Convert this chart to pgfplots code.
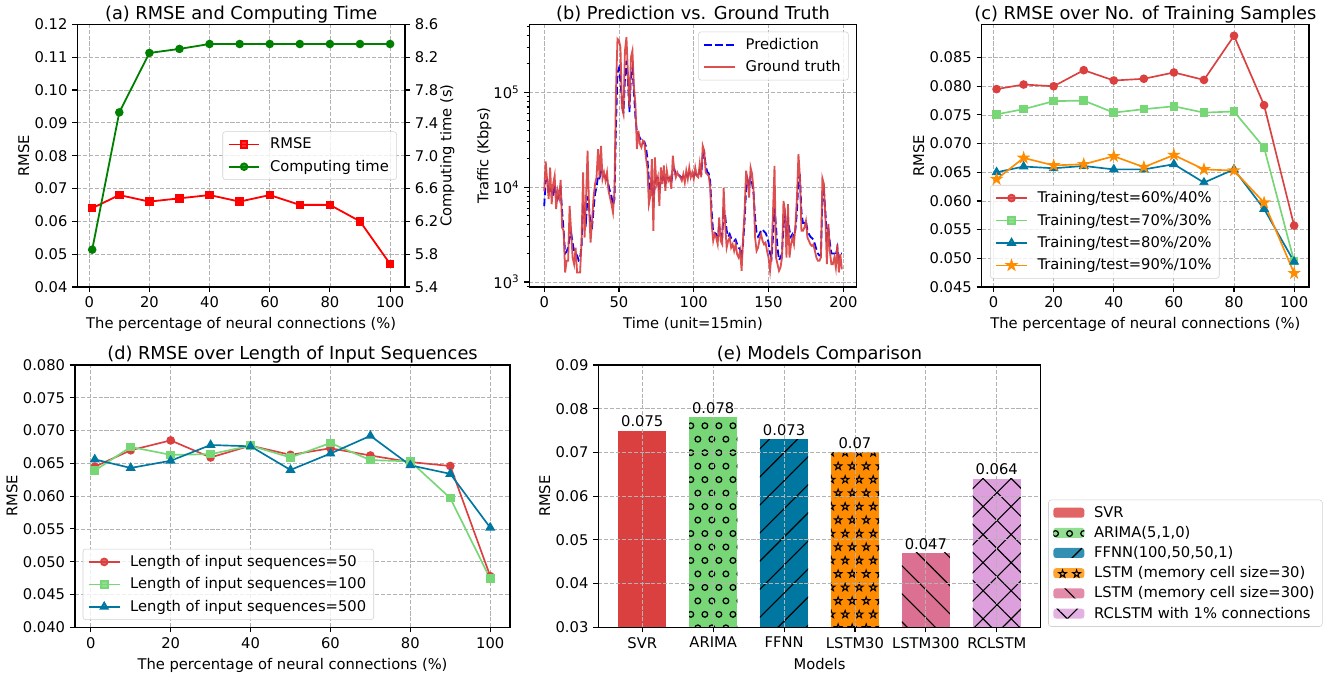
\documentclass[border=0pt]{standalone}
\usepackage{fontspec}
\setmainfont{DejaVu Sans}
\usepackage{pgfplots}
\usepackage{pgfplotstable}
\pgfplotsset{compat=1.18}
\usetikzlibrary{patterns.meta}

\definecolor{mred}{RGB}{255,0,0}
\definecolor{mgreen}{RGB}{0,128,0}
\definecolor{cred}{RGB}{219,64,64}
\definecolor{cgreen}{RGB}{119,215,119}
\definecolor{cblue}{RGB}{0,119,160}
\definecolor{corange}{RGB}{255,140,0}
\definecolor{cpink}{RGB}{219,112,147}
\definecolor{cplum}{RGB}{221,160,221}

\newcommand\fs{\fontsize{10.6}{12.7}\selectfont}
\newcommand\ft{\fontsize{12.8}{15.4}\selectfont}

% filled five-pointed star, like matplotlib's '*'
\pgfdeclareplotmark{fstar}{%
  \pgfpathmoveto{\pgfpointpolar{90}{\pgfplotmarksize}}%
  \pgfpathlineto{\pgfpointpolar{126}{0.382\pgfplotmarksize}}%
  \pgfpathlineto{\pgfpointpolar{162}{\pgfplotmarksize}}%
  \pgfpathlineto{\pgfpointpolar{198}{0.382\pgfplotmarksize}}%
  \pgfpathlineto{\pgfpointpolar{234}{\pgfplotmarksize}}%
  \pgfpathlineto{\pgfpointpolar{270}{0.382\pgfplotmarksize}}%
  \pgfpathlineto{\pgfpointpolar{306}{\pgfplotmarksize}}%
  \pgfpathlineto{\pgfpointpolar{342}{0.382\pgfplotmarksize}}%
  \pgfpathlineto{\pgfpointpolar{18}{\pgfplotmarksize}}%
  \pgfpathlineto{\pgfpointpolar{54}{0.382\pgfplotmarksize}}%
  \pgfpathclose
  \pgfusepathqfillstroke
}

% hatch patterns
\tikzdeclarepattern{
  name=mplcircles,
  type=uncolored,
  bounding box={(-0.5pt,-0.5pt) and (10.6pt,19.9pt)},
  tile size={(10.1pt,19.4pt)},
  code={
    \draw[line width=0.9pt] (2.5pt,4.85pt) circle (2.05pt);
    \draw[line width=0.9pt] (7.55pt,14.55pt) circle (2.05pt);
  }
}
\tikzdeclarepattern{
  name=mplstars,
  type=uncolored,
  bounding box={(-1pt,-1pt) and (11.1pt,20.4pt)},
  tile size={(10.1pt,19.4pt)},
  code={
    \foreach \cx/\cy in {2.5/4.85, 7.55/14.55}{
      \draw[line width=0.75pt, line join=miter, shift={(\cx pt,\cy pt)}]
        (90:2.8pt) -- (126:1.1pt) -- (162:2.8pt) -- (198:1.1pt) -- (234:2.8pt)
        -- (270:1.1pt) -- (306:2.8pt) -- (342:1.1pt) -- (18:2.8pt) -- (54:1.1pt) -- cycle;
    }
  }
}

\pgfplotsset{
  mpl/.style={
    scale only axis,
    scaled ticks=false,
    axis line style={line width=0.8pt},
    tick style={black, line width=0.8pt},
    tick align=outside,
    tick pos=left,
    major tick length=3.6pt,
    minor tick length=2pt,
    grid=major,
    major grid style={gray!60, line width=0.6pt, dash pattern=on 2.96pt off 1.28pt},
    title style={font=\ft, at={(0.5,1)}, anchor=base, yshift=-2.4pt},
    tick label style={font=\fs},
    label style={font=\fs},
    ylabel style={yshift=-3pt},
    legend style={font=\fs, draw=black!18, rounded corners=2pt, fill=white,
      fill opacity=0.8, text opacity=1, inner xsep=3.5pt, inner ysep=2.5pt,
      row sep=2.6pt, column sep=5pt},
    legend cell align=left,
    legend image code/.code={\draw[mark repeat=2,mark phase=2,##1]
      plot coordinates {(0pt,0pt) (11.2pt,0pt) (22.3pt,0pt)};},
    /pgf/number format/assume math mode=true,
  },
  barlegend/.style={legend image code/.code={\draw[##1,draw=none] (0pt,-3.6pt) rectangle (22.3pt,3.6pt);}},
  prec/.style={yticklabel style={/pgf/number format/fixed,
      /pgf/number format/fixed zerofill, /pgf/number format/precision=#1}},
}

\pgfplotstableread{
p rmse ct
1 0.064 5.855
10 0.068 7.527
20 0.066 8.251
30 0.067 8.30
40 0.068 8.36
50 0.066 8.36
60 0.068 8.36
70 0.065 8.36
80 0.065 8.36
90 0.060 8.36
100 0.047 8.36
}\dataA

\pgfplotstableread{
p r60 r70 r80 r90
1 0.0795 0.0751 0.0650 0.0638
10 0.0803 0.0760 0.0660 0.0675
20 0.0800 0.0774 0.0657 0.0662
30 0.0828 0.0775 0.0661 0.0664
40 0.0810 0.0754 0.0655 0.0678
50 0.0813 0.0760 0.0655 0.0659
60 0.0824 0.0765 0.0664 0.0680
70 0.0811 0.0754 0.0632 0.0655
80 0.0888 0.0756 0.0655 0.0653
90 0.0767 0.0693 0.0586 0.0597
100 0.0557 0.0495 0.0494 0.0474
}\dataC

\pgfplotstableread{
p l50 l100 l500
1 0.0645 0.0639 0.0656
10 0.0670 0.0675 0.0643
20 0.0685 0.0663 0.0654
30 0.0659 0.0664 0.0678
40 0.0677 0.0677 0.0676
50 0.0663 0.0659 0.0640
60 0.0673 0.0681 0.0665
70 0.0662 0.0655 0.0692
80 0.0652 0.0653 0.0647
90 0.0646 0.0597 0.0634
100 0.0478 0.0474 0.0552
}\dataD

\pgfplotstableread{
t gt pr
0 9000 6300
1 18700 11700
2 11700 12000
3 7470 8500
4 16100 9500
5 6610 9000
6 10800 8000
7 13200 10500
8 5860 8500
9 9150 7500
10 7780 8500
11 11900 9500
12 3750 5500
13 3460 3500
14 1260 2000
15 1670 2100
16 1670 2300
17 6350 2900
18 3460 3300
19 1810 2600
20 1540 2100
21 2300 2000
22 1260 1900
23 1260 1700
24 1260 1800
25 2710 2400
26 14300 6500
27 2940 5500
28 7780 4500
29 24200 8000
30 6100 6000
31 2600 4000
32 4400 3800
33 7780 5800
34 10800 8500
35 12700 10000
36 25200 13000
37 12700 12500
38 27300 14500
39 12200 13500
40 14300 13000
41 11700 13000
42 14300 12000
43 9150 10500
44 7780 9000
45 6610 8000
46 5400 6500
47 9150 7500
48 104000 44000
49 366000 160000
50 351000 180000
51 299000 130000
52 69400 80000
53 59000 60000
54 275000 140000
55 381000 215000
56 156000 130000
57 69400 62000
58 234000 150000
59 275000 180000
60 113000 100000
61 75300 55000
62 25200 38000
63 39400 36000
64 28500 33000
65 26300 31000
66 30900 29000
67 29600 30000
68 20600 27000
69 16100 20000
70 6610 12000
71 8100 9000
72 19700 11000
73 3460 7000
74 20600 11000
75 10800 12500
76 12700 12500
77 6350 9000
78 16100 12500
79 10800 12000
80 16900 13500
81 9150 11000
82 14900 12500
83 11700 12500
84 12700 12500
85 9600 11000
86 21500 15000
87 14900 15500
88 12700 13500
89 14300 13500
90 13200 13500
91 12700 13000
92 11700 12500
93 13700 13000
94 11200 12500
95 14900 13500
96 12200 13000
97 16100 14000
98 12700 13500
99 14300 13500
100 12200 13000
101 16100 14000
102 13200 13500
103 12700 13000
104 17600 15000
105 12700 14000
106 27300 21000
107 24200 23000
108 14300 17000
109 13700 14500
110 13200 14000
111 9900 11500
112 4070 5500
113 2710 3300
114 3190 3300
115 2940 3200
116 2500 3000
117 4780 3800
118 2710 3400
119 2500 3000
120 9900 5500
121 4070 5000
122 2300 3500
123 2710 3000
124 2940 3200
125 2300 2900
126 2500 2800
127 2120 2700
128 2500 2800
129 1960 2500
130 1810 2300
131 2120 2200
132 1310 1800
133 2940 2600
134 5620 4500
135 14900 9500
136 11700 12000
137 7780 10000
138 16100 12500
139 13800 11000
140 9150 8500
141 2940 4800
142 2120 3300
143 2300 3000
144 2820 3200
145 3180 3500
146 2710 3600
147 2490 3400
148 2600 3300
149 2120 3000
150 1810 2600
151 1310 2000
152 1960 1800
153 5600 3000
154 16800 6000
155 1810 3800
156 1540 2300
157 1310 1700
158 1420 1800
159 1810 2000
160 7150 4000
161 5600 5000
162 1810 3000
163 6610 4500
164 1810 3500
165 2490 3000
166 2940 3200
167 2490 3000
168 4060 3600
169 7780 5500
170 22300 12500
171 12700 13000
172 3460 5500
173 3460 4200
174 3750 4200
175 4400 4400
176 2940 3500
177 2710 3200
178 2490 3000
179 2400 2900
180 2490 2800
181 2120 2500
182 1810 2200
183 1670 2000
184 1670 1900
185 1810 1900
186 12400 7500
187 10800 9000
188 4780 5500
189 1540 3000
190 4060 3600
191 2120 2600
192 1540 2000
193 1540 2000
194 1810 2000
195 1420 1900
196 2490 2300
197 1260 1800
198 1960 2000
199 1360 2000
}\dataB

\begin{document}
\begin{tikzpicture}
\path[use as bounding box] (0,0) rectangle (964.8pt,486pt);

% ---------------- (a) ----------------
\begin{axis}[mpl, at={(55.66pt,279.36pt)}, anchor=south west,
  width=235.94pt, height=189.14pt,
  title={(a) RMSE and Computing Time},
  xmin=-3.95, xmax=104.95, ymin=0.04, ymax=0.12,
  xtick={0,20,40,60,80,100},
  ytick={0.04,0.05,0.06,0.07,0.08,0.09,0.10,0.11,0.12},
  prec=2,
  xlabel={The percentage of neural connections (\%)},
  ylabel={RMSE},
]
\addplot[mred, line width=1.3pt, mark=square*, mark size=2.4pt] table[x=p,y=rmse] {\dataA};
\end{axis}
\begin{axis}[mpl, at={(55.66pt,279.36pt)}, anchor=south west,
  width=235.94pt, height=189.14pt,
  xmin=-3.95, xmax=104.95, ymin=5.4, ymax=8.6,
  axis x line=none, axis y line*=right, ytick pos=right, grid=none,
  ytick={5.4,5.8,6.2,6.6,7.0,7.4,7.8,8.2,8.6},
  prec=1,
  ylabel={Computing time (s)},
  ylabel style={yshift=8.5pt},
  legend style={at={(0.975,0.5)}, anchor=east},
]
\addlegendimage{mred, line width=1.3pt, mark=square*, mark size=2.4pt}
\addlegendentry{RMSE}
\addplot[mgreen, line width=1.3pt, mark=*, mark size=2.4pt] table[x=p,y=ct] {\dataA};
\addlegendentry{Computing time}
\end{axis}

% ---------------- (b) ----------------
\begin{axis}[mpl, at={(381.1pt,279.36pt)}, anchor=south west,
  width=235.73pt, height=189.14pt,
  title={(b) Prediction vs. Ground Truth},
  ymode=log, xmin=-9.95, xmax=208.95, ymin=885, ymax=522000,
  xtick={0,50,100,150,200},
  ytick={1000,10000,100000},
  yticklabels={10\textsuperscript{3},10\textsuperscript{4},10\textsuperscript{5}},
  minor ytick={900,2000,3000,4000,5000,6000,7000,8000,9000,20000,30000,40000,50000,60000,70000,80000,90000,200000,300000,400000,500000},
  xlabel={Time (unit=15min)},
  ylabel={Traffic (Kbps)},
  ylabel style={yshift=-2.5pt},
  legend style={at={(0.9756,0.972)}, anchor=north east},
]
\addplot[blue, line width=1.3pt, dash pattern=on 5.5pt off 2.4pt] table[x=t,y=pr] {\dataB};
\addlegendentry{Prediction}
\addplot[cred, line width=1.3pt, opacity=0.92] table[x=t,y=gt] {\dataB};
\addlegendentry{Ground truth}
\end{axis}

% ---------------- (c) ----------------
\begin{axis}[mpl, at={(706.82pt,279.36pt)}, anchor=south west,
  width=235.66pt, height=189.14pt,
  title={(c) RMSE over No. of Training Samples},
  xmin=-3.95, xmax=104.95, ymin=0.045, ymax=0.0908,
  xtick={0,20,40,60,80,100},
  ytick={0.045,0.050,0.055,0.060,0.065,0.070,0.075,0.080,0.085},
  prec=3,
  xlabel={The percentage of neural connections (\%)},
  ylabel={RMSE},
  legend style={at={(0.0254,0.032)}, anchor=south west},
]
\addplot[cred, line width=1.2pt, mark=*, mark size=2.5pt] table[x=p,y=r60] {\dataC};
\addlegendentry{Training/test=60\%/40\%}
\addplot[cgreen, line width=1.2pt, mark=square*, mark size=2.5pt] table[x=p,y=r70] {\dataC};
\addlegendentry{Training/test=70\%/30\%}
\addplot[cblue, line width=1.2pt, mark=triangle*, mark size=3pt] table[x=p,y=r80] {\dataC};
\addlegendentry{Training/test=80\%/20\%}
\addplot[corange, line width=1.2pt, mark=fstar, mark size=3.2pt] table[x=p,y=r90] {\dataC};
\addlegendentry{Training/test=90\%/10\%}
\end{axis}

% ---------------- (d) ----------------
\begin{axis}[mpl, at={(54pt,34.34pt)}, anchor=south west,
  width=313.2pt, height=188.86pt,
  title={(d) RMSE over Length of Input Sequences},
  xmin=-3.95, xmax=104.95, ymin=0.04, ymax=0.08,
  xtick={0,20,40,60,80,100},
  ytick={0.040,0.045,0.050,0.055,0.060,0.065,0.070,0.075,0.080},
  prec=3,
  xlabel={The percentage of neural connections (\%)},
  ylabel={RMSE},
  legend style={at={(0.0177,0.028)}, anchor=south west},
]
\addplot[cred, line width=1.2pt, mark=*, mark size=2.5pt] table[x=p,y=l50] {\dataD};
\addlegendentry{Length of input sequences=50}
\addplot[cgreen, line width=1.2pt, mark=square*, mark size=2.5pt] table[x=p,y=l100] {\dataD};
\addlegendentry{Length of input sequences=100}
\addplot[cblue, line width=1.2pt, mark=triangle*, mark size=3pt] table[x=p,y=l500] {\dataD};
\addlegendentry{Length of input sequences=500}
\end{axis}

% ---------------- (e) ----------------
\begin{axis}[mpl, at={(430.78pt,34.34pt)}, anchor=south west,
  width=318.53pt, height=188.86pt,
  title={(e) Models Comparison},
  axis on top,
  ybar, bar width=0.68,
  xmin=-0.62, xmax=5.62, ymin=0.03, ymax=0.09,
  xtick={0,1,2,3,4,5},
  xticklabels={SVR,ARIMA,FFNN,LSTM30,LSTM300,RCLSTM},
  ytick={0.03,0.04,0.05,0.06,0.07,0.08,0.09},
  prec=2,
  xlabel={Models},
  ylabel={RMSE},
  nodes near coords, point meta=explicit symbolic,
  every node near coord/.append style={font=\fs, text=black, anchor=south, inner sep=2.5pt},
  legend style={at={(1.017,0.002)}, anchor=south west, row sep=1pt},
]
\addplot[fill=cred, draw=none, bar shift=0pt, barlegend] coordinates {(0,0.075) [0.075]};
\addlegendentry{SVR}
\addplot[fill=cgreen, draw=none, bar shift=0pt, postaction={pattern=mplcircles}, barlegend] coordinates {(1,0.078) [0.078]};
\addlegendentry{ARIMA(5,1,0)}
\addplot[fill=cblue, draw=none, bar shift=0pt, postaction={pattern={Lines[angle=45,distance=14.3pt,line width=0.8pt]}}, barlegend] coordinates {(2,0.073) [0.073]};
\addlegendentry{FFNN(100,50,50,1)}
\addplot[fill=corange, draw=none, bar shift=0pt, postaction={pattern=mplstars}, barlegend] coordinates {(3,0.070) [0.07]};
\addlegendentry{LSTM (memory cell size=30)}
\addplot[fill=cpink, draw=none, bar shift=0pt, postaction={pattern={Lines[angle=-45,distance=14.3pt,line width=0.8pt]}}, barlegend] coordinates {(4,0.047) [0.047]};
\addlegendentry{LSTM (memory cell size=300)}
\addplot[fill=cplum, draw=none, bar shift=0pt, postaction={pattern={Hatch[angle=45,distance=14.3pt,line width=0.8pt]}}, barlegend] coordinates {(5,0.064) [0.064]};
\addlegendentry{RCLSTM with 1\% connections}
\end{axis}
\end{tikzpicture}
\end{document}
